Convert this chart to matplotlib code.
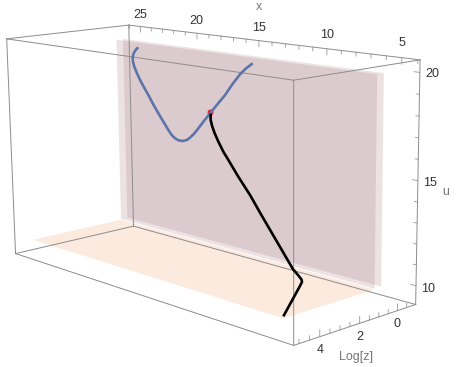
#!/usr/bin/env python3

import numpy as np
import matplotlib
matplotlib.use("Agg")
from matplotlib import pyplot as plt
from matplotlib.transforms import Affine2D
from mpl_toolkits.mplot3d.art3d import Poly3DCollection

W, H = 457, 367

x_lim = (3.86, 26.07)
z_lim = (-1.0, 5.25)
u_lim = (9.09, 20.57)

# where the box corners sit in the picture, used to fit the perspective
corner_x = [x_lim[1], x_lim[1], x_lim[0], x_lim[0], x_lim[0], x_lim[0], x_lim[1], x_lim[1]]
corner_z = [z_lim[0], z_lim[0], z_lim[0], z_lim[0], z_lim[1], z_lim[1], z_lim[1], z_lim[1]]
corner_u = [u_lim[1], u_lim[0], u_lim[1], u_lim[0], u_lim[1], u_lim[0], u_lim[1], u_lim[0]]
corner_px = [129, 133.3, 420, 415.7, 293.7, 293.7, 6.5, 15.7]
corner_py = [25, 226, 60, 304.7, 80, 345.3, 39, 253.7]

wall_x = (25, 5)
wall_u = (10, 20)
wall_z = (0.3, -0.05)
floor_x = (25, 5)
floor_z = (0.3, 4.9)
floor_u = 9.95

x_major = [25, 20, 15, 10, 5]
u_major = [20, 15, 10]
z_major = [0, 2, 4]

blue_x = [23.11, 23.29, 23.45, 23.55, 23.53, 23.42, 23.22, 22.93, 22.59, 22.21, 21.79, 21.36, 20.93, 20.51, 20.23,
          19.95, 19.66, 19.32, 18.95, 18.67, 18.33, 17.96, 17.49, 16.99, 16.39, 15.77, 15.19, 14.59, 14.15, 13.69]
blue_u = [19.69, 19.56, 19.39, 19.16, 18.93, 18.67, 18.38, 18.0, 17.64, 17.26, 16.8, 16.37, 15.97, 15.57, 15.34,
          15.2, 15.13, 15.13, 15.23, 15.39, 15.64, 15.97, 16.41, 16.86, 17.39, 17.93, 18.53, 19.09, 19.41, 19.68]
black_x = [16.94, 16.79, 16.5, 16.05, 15.49, 14.76, 14.09, 12.76, 11.27, 9.83, 5.85, 5.31, 4.93, 4.83, 4.84, 4.97]
black_z = [0.3, 0.4, 0.52, 0.68, 0.86, 1.09, 1.28, 1.67, 2.1, 2.55, 3.82, 3.98, 4.09, 4.14, 4.23, 4.9]
black_u = [16.78, 16.56, 16.32, 16.01, 15.69, 15.32, 15.03, 14.46, 13.88, 13.27, 11.71, 11.6, 11.5, 11.42, 11.26, 10.1]
red_x, red_u = 16.99, 16.93


def fit_camera():
    rows = []
    for x, z, u, px, py in zip(corner_x, corner_z, corner_u, corner_px, corner_py):
        X = [x, z, u, 1]
        rows.append(X + [0, 0, 0, 0] + [-px * v for v in X])
        rows.append([0, 0, 0, 0] + X + [-py * v for v in X])
    return np.linalg.svd(np.array(rows, dtype=float))[2][-1].reshape(3, 4)


P = fit_camera()


def camera_proj():
    # picture pixels to the 2d coordinates of the axes
    to_ax = (Affine2D().scale(1, -1).translate(0, H) + ax.transData.inverted()).get_matrix()
    h = to_ax @ P
    # Line3D drops points with depth above 0, so keep the depth row a little under 0
    depth = -0.5 * h[2] + np.array([0, 1e-3 * np.abs(h[2]).max(), 0, 0])
    return np.vstack([h[0], h[1], depth, h[2]])


def label(x, z, u, s, color):
    h = P @ np.array([x, z, u, 1.0])
    ax.text2D(h[0] / h[2] / W, 1 - h[1] / h[2] / H, s, transform=fig.transFigure, color=color,
              ha='center', va='center', fontsize=9, zorder=6)


plt.rcParams['font.family'] = ['Liberation Sans', 'DejaVu Sans']
fig = plt.figure(figsize=(W / 100, H / 100), dpi=100)
# 3d axes are forced square, so make the square cover the whole figure
ax = fig.add_axes([0, -(W / H - 1) / 2, 1, W / H], projection='3d')
ax.set_axis_off()
ax.computed_zorder = False
ax.get_proj = camera_proj

floor = [(floor_x[0], floor_z[1], floor_u), (floor_x[0], floor_z[0], floor_u),
         (floor_x[1], floor_z[0], floor_u), (floor_x[1], floor_z[1], floor_u)]
ax.add_collection3d(Poly3DCollection([floor], facecolors=[(252 / 255, 234 / 255, 222 / 255, 1)],
                                     edgecolors='none', zorder=1), autolim=False)
for z in wall_z:
    wall = [(wall_x[0], z, wall_u[1]), (wall_x[1], z, wall_u[1]), (wall_x[1], z, wall_u[0]), (wall_x[0], z, wall_u[0])]
    ax.add_collection3d(Poly3DCollection([wall], facecolors=[(160 / 255, 112 / 255, 122 / 255, 0.2)],
                                         edgecolors='none', zorder=2), autolim=False)

box_color = '#8c8c8c'
x0, x1 = x_lim
z0, z1 = z_lim
u0, u1 = u_lim
for u in u_lim:
    ax.plot([x0, x1], [z0, z0], [u, u], color=box_color, lw=0.7, zorder=3)
    ax.plot([x0, x1], [z1, z1], [u, u], color=box_color, lw=0.7, zorder=3)
    ax.plot([x0, x0], [z0, z1], [u, u], color=box_color, lw=0.7, zorder=3)
    ax.plot([x1, x1], [z0, z1], [u, u], color=box_color, lw=0.7, zorder=3)
for x in x_lim:
    for z in z_lim:
        ax.plot([x, x], [z, z], [u0, u1], color=box_color, lw=0.7, zorder=3)

# ticks: x along the top back edge, Log[z] along the bottom right edge, u on the right edge
tick_color = '#999999'
for x in range(4, 27):
    size = 0.3 if x in x_major else 0.18
    ax.plot([x, x], [z0, z0], [u1, u1 - size], color=tick_color, lw=0.6, zorder=3)
for z in np.arange(-0.5, 5.5, 0.5):
    size = 0.32 if z in z_major else 0.2
    ax.plot([x0, x0], [z, z], [u0, u0 + size], color=tick_color, lw=0.6, zorder=3)
for u in range(10, 21):
    size = 0.35 if u in u_major else 0.2
    ax.plot([x0, x0 + size], [z0, z0], [u, u], color=tick_color, lw=0.6, zorder=3)

ax.plot([red_x], [wall_z[0]], [red_u], 'o', color='#e8202a', ms=4.3, mew=0, zorder=4)
ax.plot(blue_x, [wall_z[0]] * len(blue_x), blue_u, color='#5d74a8', lw=1.9, zorder=5)
ax.plot(black_x, black_z, black_u, color='black', lw=1.9, zorder=5)

for x in x_major:
    label(x, z0, u1 + 0.65, str(x), '#333333')
for u in u_major:
    label(x0 - 0.75, z0, u, str(u), '#333333')
for z in z_major:
    label(x0, z, u0 - 0.62, str(z), '#333333')
label(15, z0, u1 + 1.7, 'x', '#777777')
label(x0 - 1.7, z0, 14.75, 'u', '#777777')
label(x0, 2.15, u0 - 1.55, 'Log[z]', '#777777')

fig.savefig("out.png", dpi=100)
